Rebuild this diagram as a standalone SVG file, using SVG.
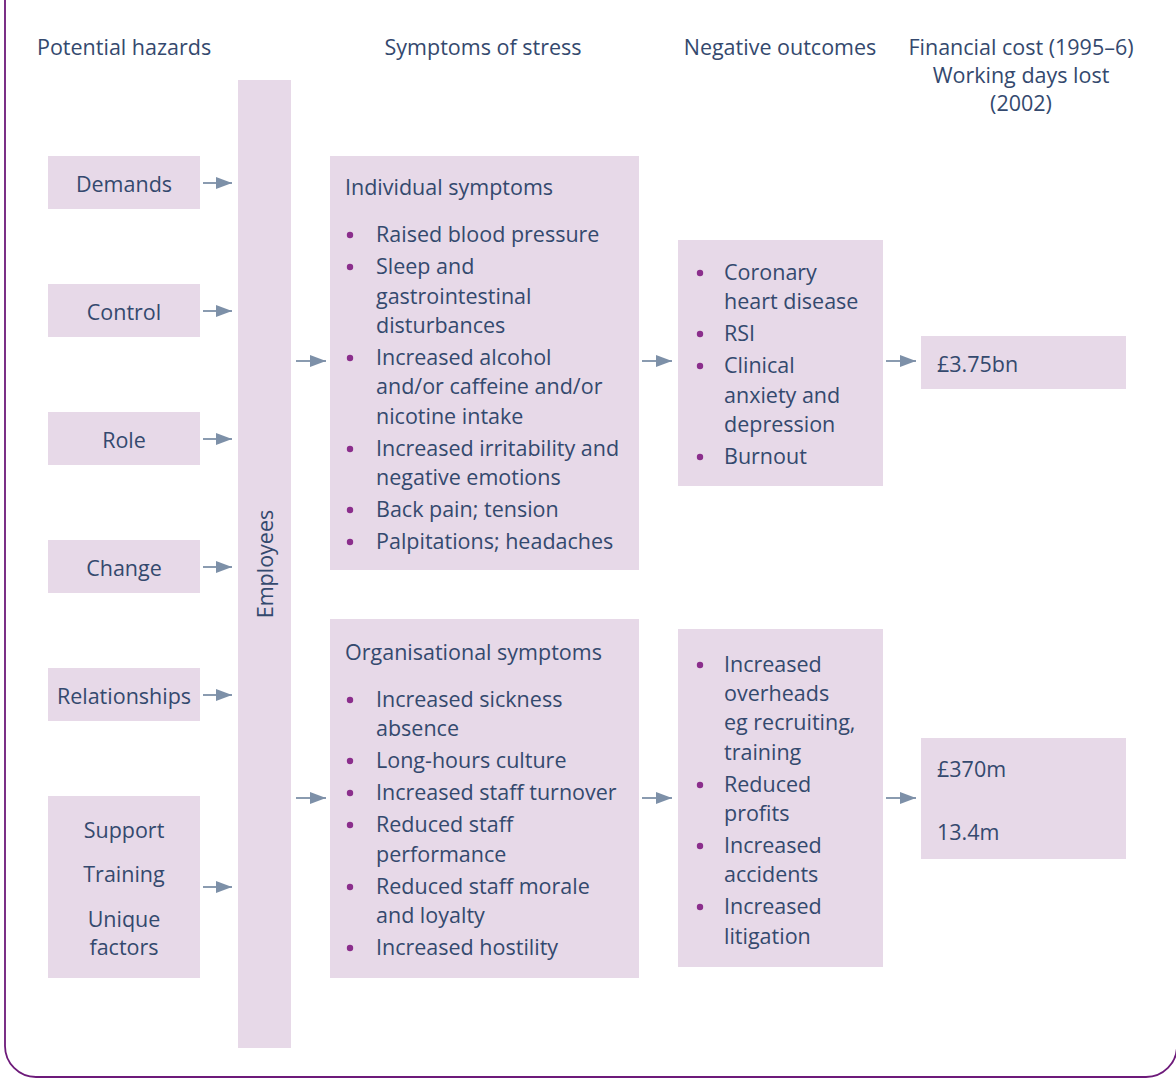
<svg xmlns="http://www.w3.org/2000/svg" width="1176" height="1079" viewBox="0 0 1176 1079">
<defs>
<style>
.box{fill:#e7d9e8}
text{font-family:"Open Sans","Noto Sans","Liberation Sans",sans-serif;font-size:21.5px;fill:#34496e}
.c{text-anchor:middle}
.b{fill:#8b2e8c}
.ar{stroke:#7d90a8;stroke-width:1.8;fill:none}
</style>
<marker id="ah" markerUnits="userSpaceOnUse" markerWidth="18" markerHeight="14" refX="16" refY="6" orient="auto">
<path d="M0,0 L16,6 L0,12 Z" fill="#7d90a8"/>
</marker>
</defs>
<rect x="5" y="-40" width="1172" height="1117" rx="31" fill="none" stroke="#6d1a7a" stroke-width="1.8"/>
<g id="headers">
<text x="37" y="55">Potential hazards</text>
<text x="483" y="55" class="c">Symptoms of stress</text>
<text x="780" y="55" class="c">Negative outcomes</text>
<text x="1021" y="55" class="c">Financial cost (1995–6)</text>
<text x="1021" y="83" class="c">Working days lost</text>
<text x="1021" y="111" class="c">(2002)</text>
</g>
<g id="demands"><rect class="box" x="48" y="156" width="152" height="53"/><text x="124" y="192" class="c">Demands</text></g>
<g id="control"><rect class="box" x="48" y="284" width="152" height="53"/><text x="124" y="320" class="c">Control</text></g>
<g id="role"><rect class="box" x="48" y="412" width="152" height="53"/><text x="124" y="448" class="c">Role</text></g>
<g id="change"><rect class="box" x="48" y="540" width="152" height="53"/><text x="124" y="576" class="c">Change</text></g>
<g id="relationships"><rect class="box" x="48" y="668" width="152" height="53"/><text x="124" y="704" class="c">Relationships</text></g>
<g id="support"><rect class="box" x="48" y="796" width="152" height="182"/>
<text x="124" y="838" class="c">Support</text>
<text x="124" y="882" class="c">Training</text>
<text x="124" y="927" class="c">Unique</text>
<text x="124" y="955" class="c">factors</text></g>
<g id="employees"><rect class="box" x="238" y="80" width="53" height="968"/>
<text transform="translate(273,564) rotate(-90)" class="c">Employees</text></g>
<g id="individual"><rect class="box" x="330" y="156" width="309" height="414"/>
<text x="345" y="195">Individual symptoms</text>
<circle class="b" cx="350" cy="235" r="3.2"/><text x="376" y="242">Raised blood pressure</text>
<circle class="b" cx="350" cy="267" r="3.2"/><text x="376" y="274">Sleep and</text>
<text x="376" y="304">gastrointestinal</text>
<text x="376" y="333">disturbances</text>
<circle class="b" cx="350" cy="358" r="3.2"/><text x="376" y="365">Increased alcohol</text>
<text x="376" y="394">and/or caffeine and/or</text>
<text x="376" y="424">nicotine intake</text>
<circle class="b" cx="350" cy="449" r="3.2"/><text x="376" y="456">Increased irritability and</text>
<text x="376" y="485">negative emotions</text>
<circle class="b" cx="350" cy="510" r="3.2"/><text x="376" y="517">Back pain; tension</text>
<circle class="b" cx="350" cy="542" r="3.2"/><text x="376" y="549">Palpitations; headaches</text>
</g>
<g id="organisational"><rect class="box" x="330" y="619" width="309" height="359"/>
<text x="345" y="660">Organisational symptoms</text>
<circle class="b" cx="350" cy="700" r="3.2"/><text x="376" y="707">Increased sickness</text>
<text x="376" y="736">absence</text>
<circle class="b" cx="350" cy="761" r="3.2"/><text x="376" y="768">Long-hours culture</text>
<circle class="b" cx="350" cy="793" r="3.2"/><text x="376" y="800">Increased staff turnover</text>
<circle class="b" cx="350" cy="825" r="3.2"/><text x="376" y="832">Reduced staff</text>
<text x="376" y="862">performance</text>
<circle class="b" cx="350" cy="887" r="3.2"/><text x="376" y="894">Reduced staff morale</text>
<text x="376" y="923">and loyalty</text>
<circle class="b" cx="350" cy="948" r="3.2"/><text x="376" y="955">Increased hostility</text>
</g>
<g id="outcomes1"><rect class="box" x="678" y="240" width="205" height="246"/>
<circle class="b" cx="700" cy="273" r="3.2"/><text x="724" y="280">Coronary</text>
<text x="724" y="309">heart disease</text>
<circle class="b" cx="700" cy="334" r="3.2"/><text x="724" y="341">RSI</text>
<circle class="b" cx="700" cy="366" r="3.2"/><text x="724" y="373">Clinical</text>
<text x="724" y="403">anxiety and</text>
<text x="724" y="432">depression</text>
<circle class="b" cx="700" cy="457" r="3.2"/><text x="724" y="464">Burnout</text>
</g>
<g id="outcomes2"><rect class="box" x="678" y="629" width="205" height="338"/>
<circle class="b" cx="700" cy="665" r="3.2"/><text x="724" y="672">Increased</text>
<text x="724" y="701">overheads</text>
<text x="724" y="730">eg recruiting,</text>
<text x="724" y="760">training</text>
<circle class="b" cx="700" cy="785" r="3.2"/><text x="724" y="792">Reduced</text>
<text x="724" y="821">profits</text>
<circle class="b" cx="700" cy="846" r="3.2"/><text x="724" y="853">Increased</text>
<text x="724" y="882">accidents</text>
<circle class="b" cx="700" cy="907" r="3.2"/><text x="724" y="914">Increased</text>
<text x="724" y="944">litigation</text>
</g>
<g id="cost1"><rect class="box" x="921" y="336" width="205" height="53"/><text x="937" y="372">£3.75bn</text></g>
<g id="cost2"><rect class="box" x="921" y="738" width="205" height="121"/>
<text x="937" y="777">£370m</text>
<text x="937" y="840">13.4m</text></g>
<g id="connectors">
<line class="ar" x1="203" y1="183" x2="232" y2="183" marker-end="url(#ah)"/>
<line class="ar" x1="203" y1="311" x2="232" y2="311" marker-end="url(#ah)"/>
<line class="ar" x1="203" y1="439" x2="232" y2="439" marker-end="url(#ah)"/>
<line class="ar" x1="203" y1="567" x2="232" y2="567" marker-end="url(#ah)"/>
<line class="ar" x1="203" y1="695" x2="232" y2="695" marker-end="url(#ah)"/>
<line class="ar" x1="203" y1="887" x2="232" y2="887" marker-end="url(#ah)"/>
<line class="ar" x1="296" y1="361" x2="326" y2="361" marker-end="url(#ah)"/>
<line class="ar" x1="296" y1="798" x2="326" y2="798" marker-end="url(#ah)"/>
<line class="ar" x1="642" y1="361" x2="672" y2="361" marker-end="url(#ah)"/>
<line class="ar" x1="642" y1="798" x2="672" y2="798" marker-end="url(#ah)"/>
<line class="ar" x1="886" y1="361" x2="916" y2="361" marker-end="url(#ah)"/>
<line class="ar" x1="886" y1="798" x2="916" y2="798" marker-end="url(#ah)"/>
</g>
</svg>
